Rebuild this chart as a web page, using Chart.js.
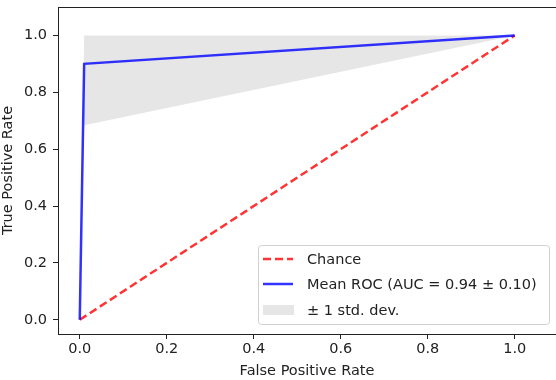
<!DOCTYPE html>
<html>
<head>
<meta charset="utf-8">
<script src="https://cdn.jsdelivr.net/npm/chart.js@4"></script>
<style>
  html, body { margin: 0; padding: 0; background: #fff; }
  #wrap { width: 556px; height: 380px; }
</style>
</head>
<body>
<div id="wrap"><canvas id="roc" width="556" height="380"></canvas></div>
<script>
// ROC data
const fpr = [0, 0.0101, 1];
const meanTpr = [0, 0.9, 1];
const tprLower = [0, 0.684, 1];
const tprUpper = [0, 1, 1];
const chanceX = [0, 1];
const chanceY = [0, 1];
const tickValues = [0, 0.2, 0.4, 0.6, 0.8, 1.0];
const legendLabels = ["Chance", "Mean ROC (AUC = 0.94 \u00b1 0.10)", "\u00b1 1 std. dev."];

const FONT = "'DejaVu Sans', sans-serif";
const FS = 14.5;
const toPts = (xs, ys) => xs.map((x, i) => ({ x: x, y: ys[i] }));

// draw top spine + legend box in the lower right like matplotlib
const rocExtras = {
  id: "rocExtras",
  afterDraw(chart) {
    const ctx = chart.ctx;
    const a = chart.chartArea;
    ctx.save();
    ctx.strokeStyle = "#222";
    ctx.lineWidth = 1;
    ctx.beginPath();
    ctx.moveTo(a.left, a.top + 0.5);
    ctx.lineTo(a.right, a.top + 0.5);
    ctx.stroke();

    // legend frame
    const bx = 258.5, by = 245.5, bw = 291, bh = 79;
    ctx.fillStyle = "rgba(255,255,255,0.8)";
    ctx.strokeStyle = "#d0d0d0";
    ctx.beginPath();
    ctx.roundRect(bx, by, bw, bh, 3);
    ctx.fill();
    ctx.stroke();

    ctx.font = FS + "px " + FONT;
    ctx.textBaseline = "middle";
    const rows = [259, 284, 310];
    // chance handle
    ctx.strokeStyle = "rgba(255,0,0,0.8)";
    ctx.lineWidth = 2.5;
    ctx.setLineDash([8, 4]);
    ctx.beginPath();
    ctx.moveTo(263, rows[0]);
    ctx.lineTo(293, rows[0]);
    ctx.stroke();
    ctx.setLineDash([]);
    // mean handle
    ctx.strokeStyle = "rgba(0,0,255,0.8)";
    ctx.beginPath();
    ctx.moveTo(263, rows[1]);
    ctx.lineTo(293, rows[1]);
    ctx.stroke();
    // std patch
    ctx.fillStyle = "rgba(128,128,128,0.2)";
    ctx.fillRect(263, rows[2] - 5, 31, 10);

    ctx.fillStyle = "#222";
    legendLabels.forEach((t, i) => ctx.fillText(t, 307, rows[i] + 1));
    ctx.restore();
  }
};

new Chart(document.getElementById("roc"), {
  type: "line",
  data: {
    datasets: [
      {
        label: "lower",
        data: toPts(fpr, tprLower),
        borderWidth: 0,
        borderColor: "rgba(0,0,0,0)",
        pointRadius: 0,
        fill: false,
        order: 3
      },
      {
        label: legendLabels[2],
        data: toPts(fpr, tprUpper),
        borderWidth: 0,
        borderColor: "rgba(0,0,0,0)",
        backgroundColor: "rgba(128,128,128,0.2)",
        pointRadius: 0,
        fill: "-1",
        order: 3
      },
      {
        label: legendLabels[0],
        data: toPts(chanceX, chanceY),
        borderColor: "rgba(255,0,0,0.8)",
        borderWidth: 2.5,
        borderDash: [8, 4],
        pointRadius: 0,
        fill: false,
        order: 2
      },
      {
        label: legendLabels[1],
        data: toPts(fpr, meanTpr),
        borderColor: "rgba(0,0,255,0.8)",
        borderWidth: 2.5,
        pointRadius: 0,
        fill: false,
        order: 1
      }
    ]
  },
  options: {
    responsive: false,
    animation: false,
    layout: { padding: { top: 7, left: 0, right: 0, bottom: 0 } },
    plugins: {
      legend: { display: false },
      tooltip: { enabled: false }
    },
    scales: {
      x: {
        type: "linear",
        min: -0.05,
        max: 1.095,
        afterFit: s => { s.height = 46; s.paddingLeft = 0; s.paddingRight = 0; },
        afterBuildTicks: s => { s.ticks = tickValues.map(v => ({ value: v })); },
        grid: { display: true, drawOnChartArea: false, drawTicks: true, tickLength: 5, color: "#222" },
        border: { display: true, color: "#222", width: 1 },
        ticks: {
          padding: 2,
          color: "#222",
          font: { family: FONT, size: FS },
          maxRotation: 0,
          callback: v => v.toFixed(1)
        },
        title: {
          display: true,
          text: "False Positive Rate",
          color: "#222",
          font: { family: FONT, size: FS },
          padding: { top: 0, bottom: 0 }
        }
      },
      y: {
        type: "linear",
        min: -0.05,
        max: 1.1,
        afterFit: s => { s.width = 58; s.paddingTop = 0; s.paddingBottom = 0; },
        afterBuildTicks: s => { s.ticks = tickValues.map(v => ({ value: v })); },
        grid: { display: true, drawOnChartArea: false, drawTicks: true, tickLength: 5, color: "#222" },
        border: { display: true, color: "#222", width: 1 },
        ticks: {
          padding: 6,
          color: "#222",
          font: { family: FONT, size: FS },
          callback: v => v.toFixed(1)
        },
        title: {
          display: true,
          text: "True Positive Rate",
          color: "#222",
          font: { family: FONT, size: FS },
          padding: { top: 0, bottom: 0 }
        }
      }
    }
  },
  plugins: [rocExtras]
});
</script>
</body>
</html>
